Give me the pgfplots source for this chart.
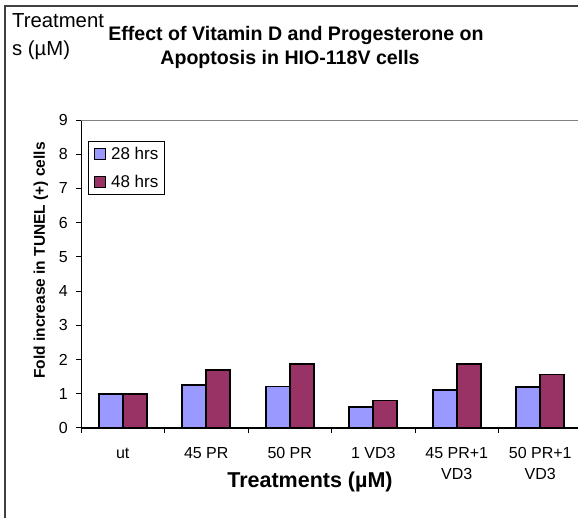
\documentclass[border=0pt]{standalone}
\usepackage{pgfplots}
\pgfplotsset{compat=1.18}
\usepackage{fontspec}
\setmainfont{Liberation Sans}
\definecolor{barblue}{RGB}{153,153,255}
\definecolor{barred}{RGB}{153,51,102}
\definecolor{framegray}{RGB}{64,64,64}
\begin{document}
\begin{tikzpicture}[x=1pt,y=1pt]
\useasboundingbox (0,0) rectangle (578,518);
\clip (0,0) rectangle (578,518);
% outer frame (top and left visible)
\draw[framegray, line width=2pt] (5,-5) -- (5,511.5) -- (600,511.5);
% leftover label
\node[anchor=base west, inner sep=0pt, font=\fontsize{20.3}{23}\selectfont] at (12,490) {Treatment};
\node[anchor=base west, inner sep=0pt, font=\fontsize{20.3}{23}\selectfont] at (12,462) {s (µM)};
% title
\node[anchor=base, inner sep=0pt, font=\fontsize{19.6}{23}\selectfont\bfseries] at (296,477.3) {Effect of Vitamin D and Progesterone on};
\node[anchor=base, inner sep=0pt, font=\fontsize{19.6}{23}\selectfont\bfseries] at (290,453) {Apoptosis in HIO-118V cells};
\begin{axis}[
  at={(81pt,90pt)}, anchor=south west,
  scale only axis, width=501pt, height=308pt,
  xmin=-0.5, xmax=5.5, ymin=0, ymax=9,
  enlarge x limits=false,
  axis x line*=bottom, axis y line*=left,
  axis line style={-, black, line width=1pt},
  x axis line style={line width=1.3pt},
  ybar, ybar=0pt, bar width=24pt,
  xtick={0,1,2,3,4,5},
  xticklabels={{\strut ut},{\strut 45 PR},{\strut 50 PR},{\strut 1 VD3},{\strut 45 PR+1\\\strut VD3},{\strut 50 PR+1\\\strut VD3}},
  major x tick style={draw=none},
  minor xtick={-0.5,0.5,1.5,2.5,3.5,4.5,5.5},
  minor tick length=5pt,
  major tick length=5pt,
  tick align=outside,
  every tick/.style={black, line width=1pt},
  ytick={0,1,2,3,4,5,6,7,8,9},
  /pgf/number format/assume math mode=true,
  ticklabel style={font=\fontsize{16}{21}\selectfont},
  xticklabel style={align=center, anchor=north, inner sep=0pt, yshift=-10.5pt},
  yticklabel style={anchor=east, inner sep=0pt, xshift=-8pt},
  xlabel={Treatments (µM)},
  xlabel style={at={(axis description cs:0.457,0)}, anchor=base, yshift=-60pt, inner sep=0pt, font=\fontsize{21.5}{25}\selectfont\bfseries},
  ylabel={Fold increase in TUNEL (+) cells},
  ylabel style={at={(axis description cs:-0.0719,0.544)}, anchor=base, rotate=0, inner sep=0pt, font=\fontsize{15.5}{18}\selectfont\bfseries},
  legend style={at={(axis description cs:0.0134,0.933)}, anchor=north west, draw=black, line width=0.8pt,
    font=\fontsize{17}{20}\selectfont, inner xsep=6pt, inner ysep=6pt, row sep=14pt, column sep=5pt,
    nodes={inner sep=0pt}},
  legend cell align=left,
  legend image code/.code={\draw[#1, line width=1pt] (0pt,-5.5pt) rectangle (11pt,5.5pt);},
]
\draw[gray, line width=1.5pt] (rel axis cs:0,1) -- (rel axis cs:1,1);
\addplot[fill=barblue, draw=black, line width=1.7pt] coordinates {(0,1.00) (1,1.26) (2,1.21) (3,0.62) (4,1.11) (5,1.19)};
\addplot[fill=barred, draw=black, line width=1.7pt] coordinates {(0,1.00) (1,1.70) (2,1.86) (3,0.80) (4,1.87) (5,1.56)};
\legend{28 hrs, 48 hrs}
\end{axis}
\end{tikzpicture}
\end{document}
